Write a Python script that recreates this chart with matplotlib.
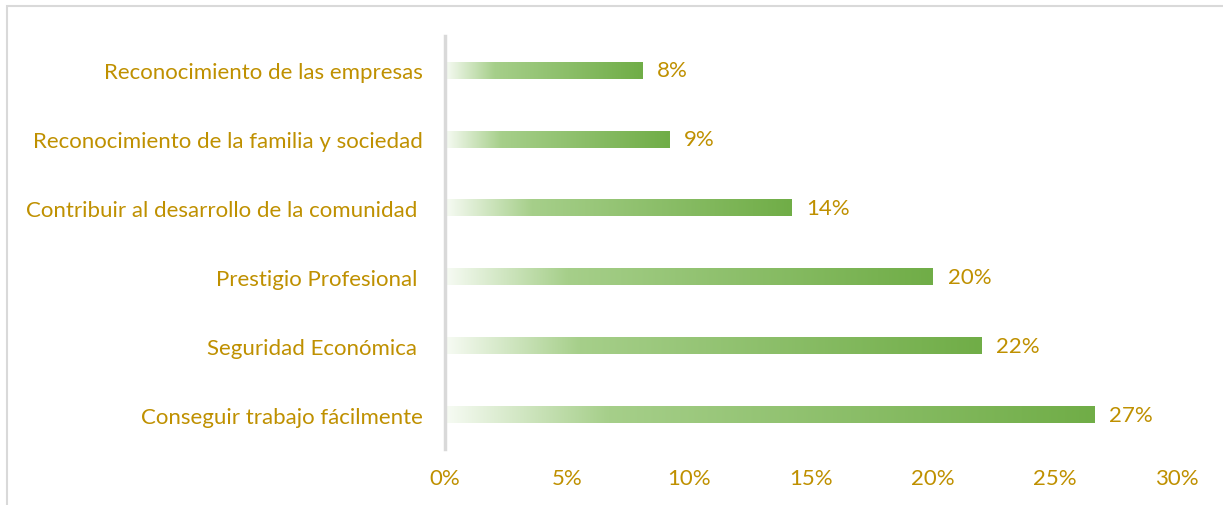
import numpy as np
import matplotlib.pyplot as plt
from matplotlib.colors import LinearSegmentedColormap
from matplotlib.patches import Rectangle

categorias = [
    "Conseguir trabajo fácilmente",
    "Seguridad Económica ",
    "Prestigio Profesional ",
    "Contribuir al desarrollo de la comunidad ",
    "Reconocimiento de la familia y sociedad",
    "Reconocimiento de las empresas",
]
valores = [26.6, 22.0, 20.0, 14.2, 9.2, 8.1]
ticks_x = [0, 5, 10, 15, 20, 25, 30]

dorado = "#BF9000"
gris = "#D9D9D9"
plt.rcParams['font.family'] = ['Lato', 'DejaVu Sans']
fs = 16

fig = plt.figure(figsize=(12.23, 5.06), dpi=100)
ax = fig.add_axes([445/1223, 1 - 450/506, 732/1223, 413/506])

# degradado blanco -> verde, relativo a cada barra
cmap = LinearSegmentedColormap.from_list(
    "verde", [(0, "#F7FBF4"), (0.25, "#A6CF8A"), (1, "#70AD47")])
grad = np.linspace(0, 1, 256).reshape(1, -1)
alto = 0.24
for i, v in enumerate(valores):
    ax.imshow(grad, cmap=cmap, aspect='auto', interpolation='bilinear',
              extent=(0, v, i - alto/2, i + alto/2), zorder=2)
    ax.text(v + 0.6, i, f"{round(v)}%", va='center', ha='left',
            color=dorado, fontsize=fs)

ax.set_xlim(0, 30)
ax.set_ylim(-0.5, len(categorias) - 0.5)
ax.set_yticks(range(len(categorias)))
ax.set_yticklabels(categorias)
ax.set_xticks(ticks_x)
ax.set_xticklabels([f"{t}%" for t in ticks_x])
ax.tick_params(axis='y', length=0, pad=16, labelcolor=dorado, labelsize=fs)
ax.tick_params(axis='x', length=0, pad=14, labelcolor=dorado, labelsize=fs)
for s in ['top', 'right', 'bottom']:
    ax.spines[s].set_visible(False)
ax.spines['left'].set_color(gris)
ax.spines['left'].set_linewidth(2.5)

# borde del gráfico (arriba e izquierda)
fig.add_artist(Rectangle((7/1223, -0.1), 1.2, 1 - 7/506 + 0.1,
                         transform=fig.transFigure, fill=False,
                         edgecolor=gris, linewidth=1.5))

fig.savefig("out.png", dpi=100)
